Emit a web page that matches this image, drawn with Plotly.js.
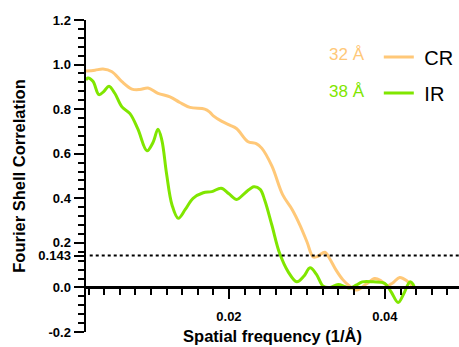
<!DOCTYPE html>
<html>
<head>
<meta charset="utf-8">
<script src="https://cdn.plot.ly/plotly-3.0.1.min.js"></script>
<style>html,body{margin:0;padding:0;background:#fff;}#chart{width:459px;height:347px;}</style>
</head>
<body>
<div id="chart"></div>
<script>
// Spatial frequency (1/Å) and FSC values
const crFreq = [0.00167,0.00282,0.00385,0.0050,0.00628,0.00756,0.00858,0.00962,0.0109,0.01244,0.0137,0.0150,0.0169,0.0175,0.0180,0.0191,0.0201,0.0210,0.0224,0.0235,0.0242,0.0255,0.0269,0.0281,0.0291,0.0300,0.0308,0.0314,0.0323,0.0329,0.0337,0.0346,0.0355,0.0364,0.0376,0.0387,0.0395,0.0403,0.0410,0.0419,0.0428,0.0438];
const crFsc  = [0.971,0.975,0.98,0.968,0.923,0.89,0.888,0.895,0.871,0.855,0.83,0.808,0.80,0.788,0.77,0.745,0.728,0.712,0.655,0.645,0.625,0.545,0.415,0.35,0.28,0.205,0.137,0.14,0.158,0.13,0.08,0.035,0.005,-0.012,0.015,0.04,0.03,0.008,0.02,0.045,0.03,-0.005];

const irFreq = [0.00167,0.00192,0.00256,0.00333,0.00397,0.00462,0.00538,0.00628,0.00731,0.00833,0.00949,0.01026,0.0109,0.0114,0.0120,0.0127,0.0135,0.0144,0.0154,0.0167,0.0178,0.0190,0.0200,0.0210,0.0221,0.0232,0.0240,0.0246,0.0255,0.0265,0.0276,0.0287,0.0296,0.0304,0.0312,0.0321,0.0329,0.0340,0.0349,0.0355,0.0363,0.0371,0.0385,0.0400,0.0408,0.0417,0.0424,0.0432,0.0436,0.0438];
const irFsc  = [0.93,0.94,0.925,0.865,0.88,0.903,0.87,0.81,0.78,0.71,0.613,0.65,0.71,0.66,0.51,0.37,0.31,0.35,0.40,0.425,0.43,0.445,0.42,0.395,0.425,0.452,0.44,0.39,0.28,0.153,0.07,0.025,0.05,0.088,0.06,0.005,0.0,0.013,0.003,-0.003,0.01,0.025,0.025,0.018,-0.02,-0.068,-0.03,0.025,0.015,-0.005];

const seriesNames = ["CR", "IR"];
const resolutions = ["32 Å", "38 Å"];
const colors = ["#FFC878", "#80E600"];
const FSC_THRESHOLD = 0.143;

const yTickVals = [-0.2, 0.0, 0.143, 0.2, 0.4, 0.6, 0.8, 1.0, 1.2];
const yTickText = ["-0.2", "0.0", "0.143", "0.2", "0.4", "0.6", "0.8", "1.0", "1.2"];
const xTickVals = [0.02, 0.04];
const xTickText = ["0.02", "0.04"];

const xRange = [0.00167, 0.0495];
const yRange = [-0.2, 1.2];

const FONT = "Liberation Sans, Arial, Helvetica, sans-serif";

const traces = [
  {x: crFreq, y: crFsc, name: "\u00a0" + seriesNames[0], legendgroup: "a", type: "scatter", mode: "lines",
   line: {color: colors[0], width: 3, shape: "spline", smoothing: 1}},
  {x: irFreq, y: irFsc, name: "\u00a0" + seriesNames[1], legendgroup: "b", type: "scatter", mode: "lines",
   line: {color: colors[1], width: 3, shape: "spline", smoothing: 1}}
];

const zeroFrac = (0 - yRange[0]) / (yRange[1] - yRange[0]);

const layout = {
  width: 459, height: 347,
  margin: {l: 86, r: 0, t: 20, b: 15},
  paper_bgcolor: "#fff", plot_bgcolor: "#fff",
  font: {family: FONT, color: "#000"},
  showlegend: true,
  legend: {x: 0.785, y: 0.944, xanchor: "left", yanchor: "top", bgcolor: "rgba(0,0,0,0)",
           font: {size: 20, family: FONT, color: "#000"}, traceorder: "grouped", tracegroupgap: 7,
           itemwidth: 30},
  xaxis: {
    range: xRange, anchor: "free", position: zeroFrac,
    showgrid: false, zeroline: false, showline: true, linecolor: "#000", linewidth: 2.5,
    tickmode: "array", tickvals: xTickVals, ticktext: xTickText,
    ticks: "outside", ticklen: 10, tickwidth: 2, tickcolor: "#000",
    ticklabelstandoff: 6,
    tickfont: {size: 13, family: FONT, weight: "bold", color: "#000"},
    minor: {dtick: 0.002, tick0: 0, ticks: "outside", ticklen: 6, tickwidth: 2, tickcolor: "#000", showgrid: false},
    title: {text: "Spatial frequency (1/Å)", standoff: 7, font: {size: 16.5, family: FONT, weight: "bold", color: "#000"}}
  },
  yaxis: {
    range: yRange,
    showgrid: false, zeroline: false, showline: true, linecolor: "#000", linewidth: 2.5,
    tickmode: "array", tickvals: yTickVals, ticktext: yTickText,
    ticks: "outside", ticklen: 10, tickwidth: 2, tickcolor: "#000",
    tickfont: {size: 13, family: FONT, weight: "bold", color: "#000"},
    minor: {dtick: 0.04, tick0: 0, ticks: "outside", ticklen: 6, tickwidth: 2, tickcolor: "#000", showgrid: false},
    title: {text: "Fourier Shell Correlation", standoff: 9, font: {size: 16.5, family: FONT, weight: "bold", color: "#000"}}
  },
  shapes: [
    {type: "line", xref: "paper", x0: 0.01, x1: 1, yref: "y", y0: FSC_THRESHOLD, y1: FSC_THRESHOLD,
     line: {color: "#000", width: 2, dash: "dot"}}
  ],
  annotations: [
    {xref: "paper", yref: "paper", x: 0.7534, y: 0.888, xanchor: "right", yanchor: "middle", showarrow: false,
     text: resolutions[0], font: {size: 17, family: FONT, color: colors[0]}},
    {xref: "paper", yref: "paper", x: 0.7534, y: 0.7724, xanchor: "right", yanchor: "middle", showarrow: false,
     text: resolutions[1], font: {size: 17, family: FONT, color: colors[1]}}
  ]
};

Plotly.newPlot("chart", traces, layout, {staticPlot: true, displayModeBar: false});
</script>
</body>
</html>
